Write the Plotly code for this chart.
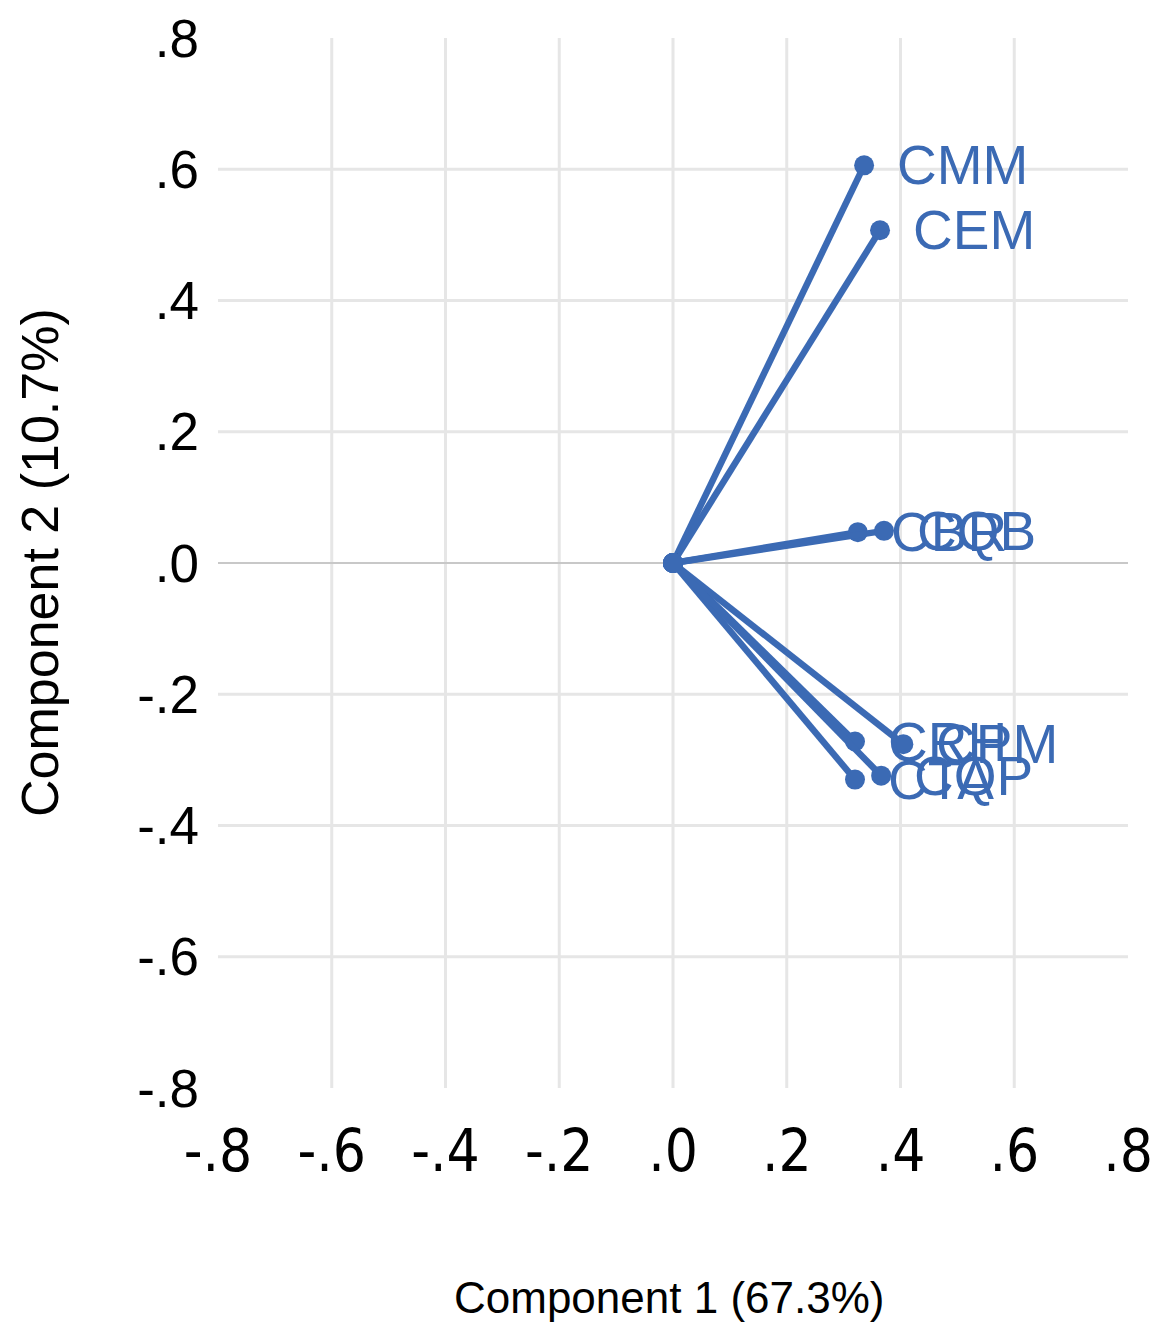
import plotly.graph_objects as go

# ---- data ----
variables = ["CMM", "CEM", "CBR", "CQB", "CRH", "CPM", "CTA", "CQP"]
comp1 = [0.336, 0.364, 0.325, 0.371, 0.320, 0.405, 0.320, 0.366]
comp2 = [0.606, 0.507, 0.047, 0.049, -0.272, -0.276, -0.330, -0.324]

tick_vals = [-0.8, -0.6, -0.4, -0.2, 0.0, 0.2, 0.4, 0.6, 0.8]
tick_text = ["-.8", "-.6", "-.4", "-.2", ".0", ".2", ".4", ".6", ".8"]

x_title = "Component 1 (67.3%)"
y_title = "Component 2 (10.7%)"

BLUE = "#3b6ab4"
GRID = "#e6e6e6"
ZERO = "#c8c8c8"
COND = "DejaVu Sans Condensed, DejaVu Sans, sans-serif"
REG = "Liberation Sans, Arial, sans-serif"

fig = go.Figure()

# vectors from origin
for vx, vy in zip(comp1, comp2):
    fig.add_trace(go.Scatter(
        x=[0, vx], y=[0, vy], mode="lines+markers",
        line=dict(color=BLUE, width=6.5),
        marker=dict(color=BLUE, size=20),
        hoverinfo="skip", showlegend=False, cliponaxis=False,
    ))

# labels
for name, vx, vy in zip(variables, comp1, comp2):
    fig.add_annotation(
        x=vx, y=vy, text=name, showarrow=False,
        xanchor="left", yanchor="middle", xshift=31,
        font=dict(family=REG, size=55, color=BLUE),
    )

# grid lines (inner ticks only)
inner = tick_vals[1:-1]
for v in inner:
    fig.add_shape(type="line", x0=v, x1=v, y0=tick_vals[0], y1=tick_vals[-1],
                  xref="x", yref="y", layer="below",
                  line=dict(color=GRID, width=3))
for v in inner:
    fig.add_shape(type="line", x0=tick_vals[0], x1=tick_vals[-1], y0=v, y1=v,
                  xref="x", yref="y", layer="below",
                  line=dict(color=ZERO if v == 0 else GRID, width=2 if v == 0 else 3))

fig.update_xaxes(
    range=[tick_vals[0], tick_vals[-1]], tickvals=tick_vals, ticktext=tick_text,
    showgrid=False, zeroline=False, showline=False, ticks="", automargin=False,
    tickfont=dict(family=COND, size=58, color="black"),
    ticklabelstandoff=24,
)
fig.update_yaxes(
    range=[tick_vals[0], tick_vals[-1]], tickvals=tick_vals, ticktext=tick_text,
    showgrid=False, zeroline=False, showline=False, ticks="", automargin=False,
    tickfont=dict(family=REG, size=53, color="black"),
    ticklabelstandoff=18,
)

fig.add_annotation(
    text=x_title, xref="paper", yref="paper", x=0.5, y=0,
    xanchor="center", yanchor="middle", yshift=-209, xshift=-4, showarrow=False,
    font=dict(family=REG, size=44, color="black"),
)
fig.add_annotation(
    text=y_title, xref="paper", yref="paper", x=0, y=0.5,
    xanchor="center", yanchor="middle", xshift=-178, textangle=-90, showarrow=False,
    font=dict(family=REG, size=52, color="black"),
)

fig.update_layout(
    width=1155, height=1319,
    margin=dict(l=210, r=35, t=30, b=239),
    plot_bgcolor="white", paper_bgcolor="white",
    showlegend=False,
)

fig.write_html("out.html")
